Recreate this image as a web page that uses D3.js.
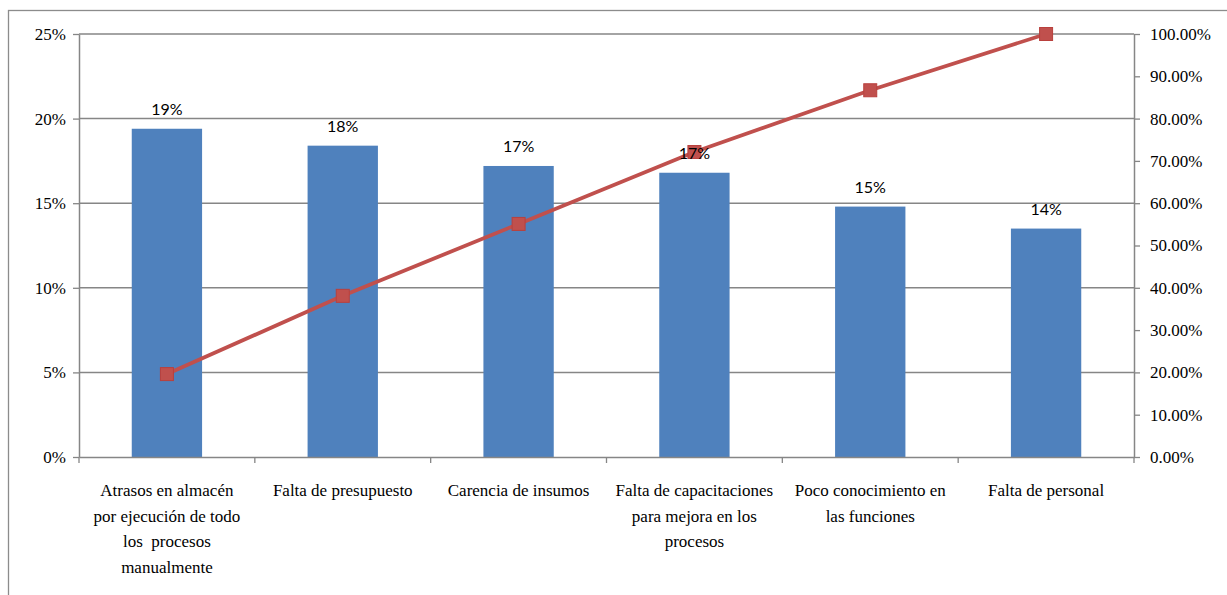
<!DOCTYPE html>
<html>
<head>
<meta charset="utf-8">
<script src="https://cdn.jsdelivr.net/npm/d3@7"></script>
<style>
  html, body { margin: 0; padding: 0; background: #fff; }
  svg { display: block; }
</style>
</head>
<body>
<svg id="chart" width="1227" height="595"></svg>
<script>
const categories = [
  "Atrasos en almacén\npor ejecución de todo\nlos  procesos\nmanualmente",
  "Falta de presupuesto",
  "Carencia de insumos",
  "Falta de capacitaciones\npara mejora en los\nprocesos",
  "Poco conocimiento en\nlas funciones",
  "Falta de personal"
];
const barValues = [0.194, 0.184, 0.172, 0.168, 0.148, 0.135];
const barLabels = ["19%", "18%", "17%", "17%", "15%", "14%"];
const cumulativeValues = [0.196, 0.381, 0.551, 0.721, 0.867, 1.0];
const leftTicks = [0, 0.05, 0.10, 0.15, 0.20, 0.25];
const rightTicks = [0, 0.1, 0.2, 0.3, 0.4, 0.5, 0.6, 0.7, 0.8, 0.9, 1.0];

const svg = d3.select("#chart");
const plot = { left: 79, right: 1134, top: 34, bottom: 457 };
const gridColor = "#868686";

// outer border
svg.append("rect")
  .attr("x", 8.5).attr("y", 10.5)
  .attr("width", 1260).attr("height", 640)
  .attr("fill", "none").attr("stroke", "#8c8c8c").attr("stroke-width", 1.3);

const x = d3.scaleBand().domain(d3.range(categories.length))
  .range([plot.left, plot.right]).paddingInner(0.6).paddingOuter(0.3);
const xOuter = d3.scaleBand().domain(d3.range(categories.length))
  .range([plot.left, plot.right]).padding(0);
const yL = d3.scaleLinear().domain([0, 0.25]).range([plot.bottom, plot.top]);
const yR = d3.scaleLinear().domain([0, 1]).range([plot.bottom, plot.top]);

// gridlines
svg.append("g").selectAll("line").data(leftTicks.filter(d => d > 0)).join("line")
  .attr("x1", plot.left).attr("x2", plot.right)
  .attr("y1", d => yL(d)).attr("y2", d => yL(d))
  .attr("stroke", gridColor).attr("stroke-width", 1.5);

// left axis
const leftAxis = svg.append("g").attr("transform", `translate(${plot.left},0)`)
  .call(d3.axisLeft(yL).tickValues(leftTicks).tickSize(6).tickSizeOuter(0)
    .tickFormat(d => Math.round(d * 100) + "%"));
// right axis
const rightAxis = svg.append("g").attr("transform", `translate(${plot.right},0)`)
  .call(d3.axisRight(yR).tickValues(rightTicks).tickSize(6).tickSizeOuter(0)
    .tickFormat(d => (d * 100).toFixed(2) + "%"));
[leftAxis, rightAxis].forEach(g => {
  g.select(".domain").attr("stroke", gridColor).attr("stroke-width", 1.5);
  g.selectAll(".tick line").attr("stroke", gridColor).attr("stroke-width", 1.3);
  g.selectAll(".tick text")
    .attr("font-family", "'Liberation Serif', 'Times New Roman', serif")
    .attr("font-size", 17).attr("fill", "#000");
});
leftAxis.selectAll(".tick text").attr("x", -13);
rightAxis.selectAll(".tick text").attr("x", 16);

// bars
svg.append("g").selectAll("rect").data(barValues).join("rect")
  .attr("x", (d, i) => x(i)).attr("width", x.bandwidth())
  .attr("y", d => yL(d)).attr("height", d => yL(0) - yL(d))
  .attr("fill", "#4F81BD");

// bottom axis
const bottomAxis = svg.append("g").attr("transform", `translate(0,${plot.bottom})`)
  .call(d3.axisBottom(xOuter).tickSize(0).tickFormat(""));
bottomAxis.select(".domain").attr("stroke", gridColor).attr("stroke-width", 1.5);
bottomAxis.selectAll(".tick").remove();
const boundaries = d3.range(categories.length + 1).map(i =>
  i < categories.length ? xOuter(i) : xOuter(i - 1) + xOuter.bandwidth());
bottomAxis.selectAll("line.bt").data(boundaries).join("line").attr("class", "bt")
  .attr("x1", d => d).attr("x2", d => d).attr("y1", 0).attr("y2", 6)
  .attr("stroke", gridColor).attr("stroke-width", 1.3);

// category labels
const catG = svg.append("g")
  .attr("font-family", "'Liberation Serif', 'Times New Roman', serif")
  .attr("font-size", 17).attr("fill", "#000").attr("text-anchor", "middle");
categories.forEach((c, i) => {
  const t = catG.append("text")
    .attr("x", xOuter(i) + xOuter.bandwidth() / 2).attr("y", 496);
  c.split("\n").forEach((line, j) => {
    t.append("tspan").attr("x", xOuter(i) + xOuter.bandwidth() / 2)
      .attr("dy", j === 0 ? 0 : 25.5).attr("xml:space", "preserve").text(line);
  });
});

// cumulative line
const cx = i => x(i) + x.bandwidth() / 2;
svg.append("path").datum(cumulativeValues)
  .attr("d", d3.line().x((d, i) => cx(i)).y(d => yR(d)))
  .attr("fill", "none").attr("stroke", "#C0504D").attr("stroke-width", 3.8);
svg.append("g").selectAll("rect").data(cumulativeValues).join("rect")
  .attr("x", (d, i) => cx(i) - 6.5).attr("y", d => yR(d) - 6.5)
  .attr("width", 13).attr("height", 13)
  .attr("fill", "#C0504D").attr("stroke", "#b9403d").attr("stroke-width", 1);

// bar data labels
svg.append("g").selectAll("text").data(barValues).join("text")
  .attr("x", (d, i) => cx(i)).attr("y", d => yL(d) - 14)
  .attr("text-anchor", "middle")
  .attr("font-family", "Lato, 'Open Sans', sans-serif").attr("font-size", 16)
  .attr("fill", "#000")
  .text((d, i) => barLabels[i]);
</script>
</body>
</html>
